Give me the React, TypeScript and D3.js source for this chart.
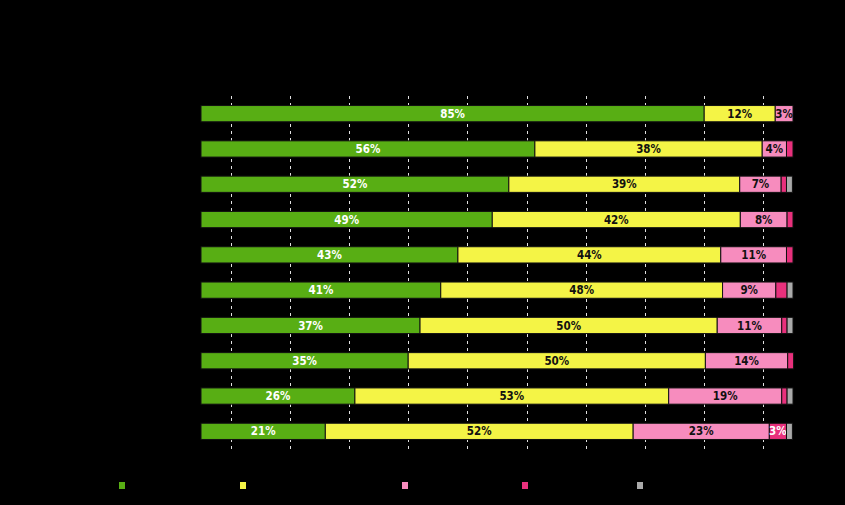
import React from "react";
import * as d3 from "d3";

const categories = ["R1", "R2", "R3", "R4", "R5", "R6", "R7", "R8", "R9", "R10"];
const seriesNames = ["s1", "s2", "s3", "s4", "s5"];
const s1 = [85.0, 56.4, 52.0, 49.2, 43.4, 40.5, 37.0, 35.0, 26.0, 21.0];
const s2 = [12.0, 38.4, 39.0, 41.9, 44.4, 47.6, 50.2, 50.2, 53.0, 52.0];
const s3 = [3.0, 4.1, 7.0, 7.9, 11.1, 9.0, 10.9, 13.9, 19.1, 23.0];
const s4 = [0.0, 1.1, 0.9, 1.0, 1.1, 1.9, 0.9, 1.0, 0.9, 2.9];
const s5 = [0.0, 0.0, 1.0, 0.0, 0.0, 1.0, 1.0, 0.0, 1.0, 1.0];
const gridTicks = [5, 15, 25, 35, 45, 55, 65, 75, 85, 95];

const colors = ["#58ae14", "#f4f446", "#f78cbe", "#e8307c", "#aaaaaa"];
const textColors = ["#ffffff", "#111111", "#111111", "#ffffff", "#111111"];

export default function App() {
  const W = 845, H = 505;
  const x = d3.scaleLinear().domain([0, 100]).range([201, 793]);
  const y = d3.scaleBand().domain(categories).range([96, 449]).paddingInner(0.54).paddingOuter(0.27);
  const series = [s1, s2, s3, s4, s5];
  const rows = categories.map((c, i) => {
    const o: any = { cat: c };
    seriesNames.forEach((s, j) => (o[s] = series[j][i]));
    return o;
  });
  const stacked = d3.stack().keys(seriesNames)(rows);
  const legendX = [122, 243, 405, 525, 640];

  return (
    <svg width={W} height={H} style={{ position: "absolute", left: 0, top: 0, background: "#000" }}>
      <rect x={0} y={0} width={W} height={H} fill="#000" />
      {gridTicks.map((t) => (
        <line key={t} x1={Math.round(x(t)) + 0.5} x2={Math.round(x(t)) + 0.5} y1={96} y2={449}
          stroke="#e0e0e0" strokeWidth={1} strokeDasharray="3,4" />
      ))}
      {stacked.map((layer, j) => (
        <g key={j}>
          {layer.map((d, i) => {
            const w = x(d[1]) - x(d[0]);
            if (w <= 0) return null;
            const v = series[j][i];
            return (
              <g key={i}>
                <rect x={x(d[0])} y={y(categories[i])!} width={w} height={y.bandwidth()}
                  fill={colors[j]} stroke="#111" strokeWidth={1} />
                {v >= 2.5 && (
                  <text x={(x(d[0]) + x(d[1])) / 2} y={y(categories[i])! + y.bandwidth() / 2}
                    dy="0.36em" textAnchor="middle" fill={textColors[j]}
                    style={{ font: "bold 11.5px 'DejaVu Sans Condensed', 'DejaVu Sans', sans-serif", fontStretch: "condensed" }}>
                    {Math.round(v) + "%"}
                  </text>
                )}
              </g>
            );
          })}
        </g>
      ))}
      {seriesNames.map((s, j) => (
        <rect key={s} x={legendX[j] - 3} y={482} width={6} height={7} fill={colors[j]} />
      ))}
    </svg>
  );
}
